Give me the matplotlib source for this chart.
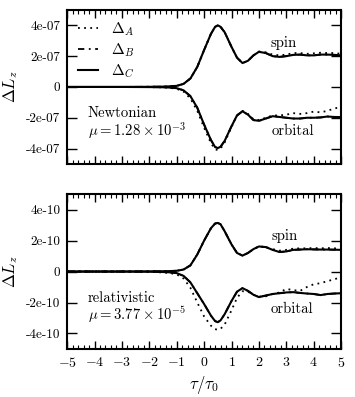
import numpy as np
import matplotlib
matplotlib.use("Agg")
import matplotlib.pyplot as plt
from matplotlib.ticker import MultipleLocator

plt.rcParams["font.family"] = "serif"
plt.rcParams["font.serif"] = ["cmr10"]
plt.rcParams["mathtext.fontset"] = "cm"
plt.rcParams["axes.formatter.use_mathtext"] = True
plt.rcParams["axes.unicode_minus"] = False

# time grid (tau / tau_0)
tau = [-5, -4, -3, -2, -1.5, -1.25, -1, -0.75, -0.5, -0.25, 0, 0.25, 0.4, 0.5, 0.6,
       0.75, 1, 1.2, 1.4, 1.6, 1.8, 2, 2.25, 2.5, 2.75, 3, 3.25, 3.5, 3.75, 4,
       4.25, 4.5, 4.75, 5]

# Newtonian panel, units of 1e-7
newt_spin_A = [0, 0, 0, 0.01, 0.02, 0.04, 0.07, 0.2, 0.55, 1.3, 2.4, 3.45, 3.9, 4.0, 3.9,
               3.55, 2.6, 1.9, 1.55, 1.7, 2.05, 2.3, 2.25, 2.1, 2.05, 2.1, 2.2, 2.2, 2.15, 2.18,
               2.22, 2.2, 2.2, 2.15]
newt_spin_B = [0, 0, 0, 0.01, 0.02, 0.04, 0.07, 0.2, 0.55, 1.3, 2.4, 3.45, 3.9, 4.0, 3.9,
               3.55, 2.6, 1.9, 1.55, 1.7, 2.05, 2.28, 2.2, 2.0, 1.95, 2.0, 2.08, 2.1, 2.05, 2.05,
               2.1, 2.1, 2.08, 2.05]
newt_spin_C = [0, 0, 0, 0.01, 0.02, 0.04, 0.07, 0.2, 0.55, 1.3, 2.4, 3.45, 3.9, 4.0, 3.9,
               3.55, 2.6, 1.9, 1.55, 1.7, 2.05, 2.28, 2.2, 2.0, 1.95, 2.0, 2.08, 2.1, 2.05, 2.05,
               2.1, 2.1, 2.08, 2.05]
newt_orb_A = [0, 0, 0, -0.01, -0.03, -0.06, -0.12, -0.3, -0.75, -1.55, -2.65, -3.65, -4.05, -4.1, -4.0,
              -3.6, -2.6, -1.85, -1.55, -1.75, -2.1, -2.15, -2.0, -1.85, -1.85, -1.8, -1.7, -1.75, -1.7, -1.6,
              -1.65, -1.55, -1.4, -1.3]
newt_orb_B = [0, 0, 0, -0.01, -0.02, -0.04, -0.08, -0.22, -0.6, -1.35, -2.45, -3.45, -3.9, -3.97, -3.88,
              -3.5, -2.55, -1.85, -1.58, -1.8, -2.15, -2.2, -2.05, -1.9, -1.95, -2.0, -2.05, -2.05, -2.0, -2.0,
              -1.98, -1.92, -1.95, -1.96]
newt_orb_C = [0, 0, 0, -0.01, -0.02, -0.04, -0.08, -0.22, -0.6, -1.35, -2.45, -3.45, -3.9, -3.97, -3.88,
              -3.5, -2.55, -1.85, -1.58, -1.8, -2.15, -2.2, -2.05, -1.9, -1.95, -2.0, -2.05, -2.05, -2.0, -2.0,
              -1.98, -1.92, -1.95, -1.96]

# relativistic panel, units of 1e-10
rel_spin_A = [0, 0, 0, 0.01, 0.02, 0.03, 0.05, 0.13, 0.4, 1.1, 2.0, 2.8, 3.1, 3.14, 3.05,
              2.6, 1.75, 1.2, 1.03, 1.2, 1.45, 1.62, 1.58, 1.45, 1.35, 1.4, 1.48, 1.5, 1.5, 1.52,
              1.5, 1.52, 1.5, 1.48]
rel_spin_B = [0, 0, 0, 0.01, 0.02, 0.03, 0.05, 0.13, 0.4, 1.1, 2.0, 2.8, 3.1, 3.14, 3.05,
              2.6, 1.75, 1.2, 1.03, 1.2, 1.45, 1.62, 1.58, 1.4, 1.26, 1.3, 1.4, 1.42, 1.44, 1.43,
              1.42, 1.42, 1.41, 1.4]
rel_spin_C = [0, 0, 0, 0.01, 0.02, 0.03, 0.05, 0.13, 0.4, 1.1, 2.0, 2.8, 3.1, 3.14, 3.05,
              2.6, 1.75, 1.2, 1.03, 1.2, 1.45, 1.62, 1.58, 1.4, 1.26, 1.3, 1.4, 1.42, 1.44, 1.43,
              1.42, 1.42, 1.41, 1.4]
rel_orb_A = [0, 0, 0, -0.02, -0.06, -0.1, -0.18, -0.45, -1.05, -2.0, -2.9, -3.5, -3.72, -3.76, -3.7,
             -3.42, -2.5, -1.7, -1.27, -1.3, -1.5, -1.62, -1.6, -1.45, -1.35, -1.12, -1.2, -1.25, -1.0, -0.82,
             -0.75, -0.62, -0.5, -0.36]
rel_orb_B = [0, 0, 0, -0.01, -0.03, -0.05, -0.1, -0.28, -0.7, -1.4, -2.1, -2.85, -3.2, -3.27, -3.15,
             -2.75, -1.9, -1.3, -1.07, -1.25, -1.5, -1.65, -1.55, -1.45, -1.4, -1.35, -1.33, -1.38, -1.42, -1.45,
             -1.52, -1.45, -1.42, -1.4]
rel_orb_C = [0, 0, 0, -0.01, -0.03, -0.05, -0.1, -0.28, -0.7, -1.4, -2.1, -2.85, -3.2, -3.27, -3.15,
             -2.75, -1.9, -1.3, -1.07, -1.25, -1.5, -1.65, -1.55, -1.45, -1.4, -1.35, -1.33, -1.38, -1.42, -1.45,
             -1.52, -1.45, -1.42, -1.4]

newt_ticks = [-4e-7, -2e-7, 0, 2e-7, 4e-7]
newt_ticklabels = ["-4e-07", "-2e-07", "0", "2e-07", "4e-07"]
rel_ticks = [-4e-10, -2e-10, 0, 2e-10, 4e-10]
rel_ticklabels = ["-4e-10", "-2e-10", "0", "2e-10", "4e-10"]

STYLES = {"A": (0, (1, 2.4)), "B": (0, (3.5, 2.5, 1, 2.5)), "C": "-"}
LW = {"A": 1.3, "B": 1.3, "C": 1.5}
FS = 10.6


def draw_panel(ax, scale, spin, orb, ticks, ticklabels, lim):
    t = np.array(tau)
    for key in ["A", "B", "C"]:
        ax.plot(t, np.array(spin[key]) * scale, color="black", ls=STYLES[key],
                lw=LW[key], label=r"$\Delta_{%s}$" % key)
        ax.plot(t, np.array(orb[key]) * scale, color="black", ls=STYLES[key], lw=LW[key])
    ax.set_xlim(-5, 5)
    ax.set_ylim(-lim, lim)
    ax.set_yticks(ticks)
    ax.set_yticklabels(ticklabels, fontsize=9.5)
    ax.xaxis.set_major_locator(MultipleLocator(1))
    ax.xaxis.set_minor_locator(MultipleLocator(0.2))
    ax.tick_params(axis="x", which="major", direction="in", top=True, length=5.5, width=1)
    ax.tick_params(axis="x", which="minor", direction="in", top=True, length=2.7, width=0.8)
    ax.tick_params(axis="y", which="major", direction="in", right=True, length=7, width=1, pad=5)
    ax.tick_params(axis="x", labelsize=10, pad=5)
    for s in ax.spines.values():
        s.set_linewidth(1.5)
    ax.set_ylabel(r"$\Delta L_z$", fontsize=12, labelpad=4)


fig = plt.figure(figsize=(3.55, 3.97), dpi=100)
ax1 = fig.add_axes([0.189, 0.587, 0.772, 0.388])
ax2 = fig.add_axes([0.189, 0.121, 0.772, 0.390])

draw_panel(ax1, 1e-7,
           {"A": newt_spin_A, "B": newt_spin_B, "C": newt_spin_C},
           {"A": newt_orb_A, "B": newt_orb_B, "C": newt_orb_C},
           newt_ticks, newt_ticklabels, 5e-7)
draw_panel(ax2, 1e-10,
           {"A": rel_spin_A, "B": rel_spin_B, "C": rel_spin_C},
           {"A": rel_orb_A, "B": rel_orb_B, "C": rel_orb_C},
           rel_ticks, rel_ticklabels, 5e-10)

ax1.tick_params(axis="x", labelbottom=False)
ax2.set_xlabel(r"$\tau/\tau_0$", fontsize=12, labelpad=3)

ax1.legend(loc="upper left", frameon=False, fontsize=11, handlelength=1.3,
           handletextpad=0.9, labelspacing=0.2, borderaxespad=0.3)

ax1.text(2.9, 2.85e-7, "spin", fontsize=FS, ha="center", va="center")
ax1.text(3.25, -2.9e-7, "orbital", fontsize=FS, ha="center", va="center")
ax1.text(-4.25, -3.16e-7, "Newtonian\n" + r"$\mu = 1.28 \times 10^{-3}$",
         fontsize=FS, ha="left", va="baseline", linespacing=1.0)

ax2.text(2.95, 2.3e-10, "spin", fontsize=FS, ha="center", va="center")
ax2.text(3.2, -2.4e-10, "orbital", fontsize=FS, ha="center", va="center")
ax2.text(-4.25, -3.12e-10, "relativistic\n" + r"$\mu = 3.77 \times 10^{-5}$",
         fontsize=FS, ha="left", va="baseline", linespacing=1.0)

fig.savefig("out.png", dpi=100)
